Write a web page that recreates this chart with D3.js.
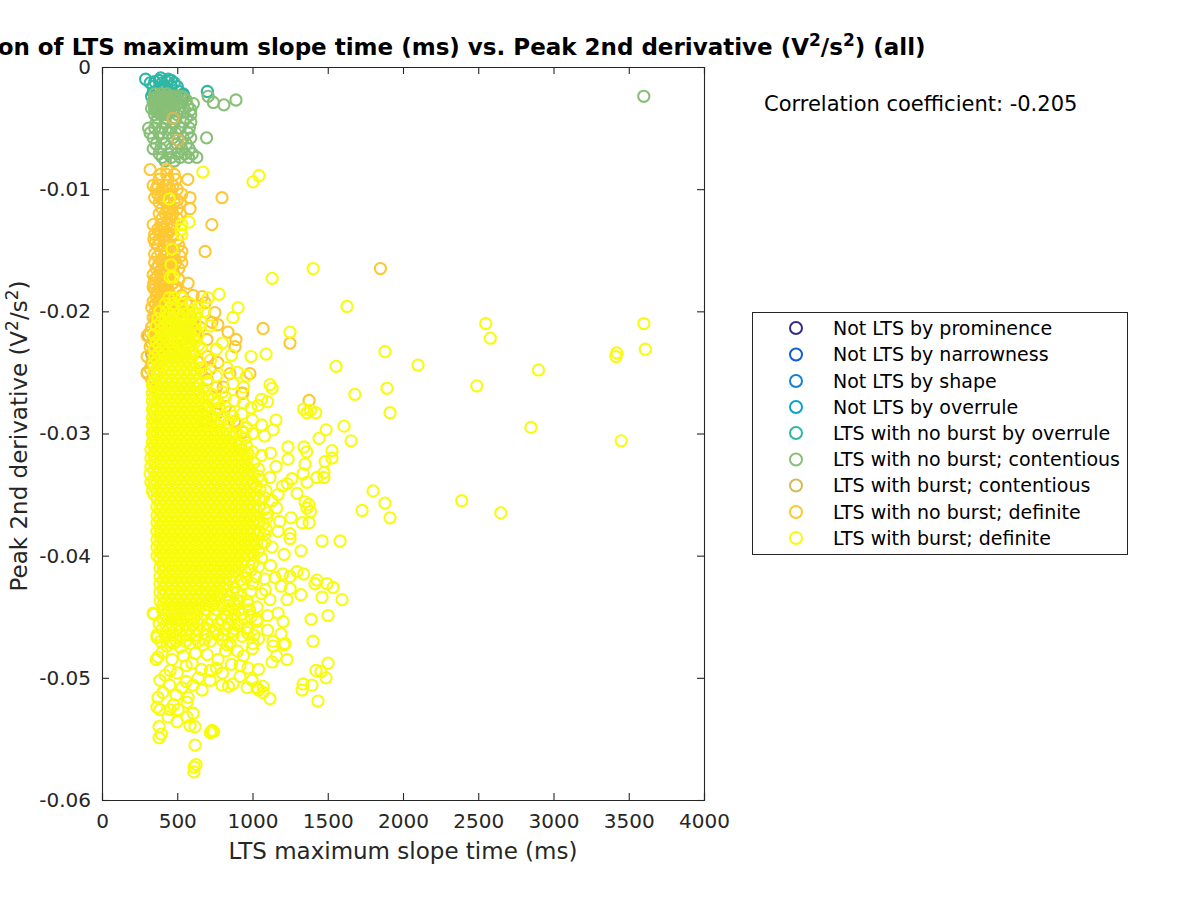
<!DOCTYPE html>
<html><head><meta charset="utf-8">
<script src="https://cdn.jsdelivr.net/npm/d3@7/dist/d3.min.js"></script>
<style>html,body{margin:0;padding:0;background:#fff;overflow:hidden}text{font-family:"DejaVu Sans";}</style>
</head><body><svg id="c" width="1200" height="900"></svg>
<script>
// all values. y in units of 1e-3 V^2/s^2
const seriesNames=["Not LTS by prominence","Not LTS by narrowness","Not LTS by shape","Not LTS by overrule","LTS with no burst by overrule","LTS with no burst; contentious","LTS with burst; contentious","LTS with no burst; definite","LTS with burst; definite"];
const seriesColors=["#352a87","#0f5cdd","#1481d6","#06a4ca","#2eb7a4","#87bf77","#d1bb59","#fec832","#f9fb0e"];
const xTicks=[0,500,1000,1500,2000,2500,3000,3500,4000];
const yTicks=[0,-0.01,-0.02,-0.03,-0.04,-0.05,-0.06];

// rows: [y, x, x, x ...]
const overruleRows=[
[-0.9,390],[-1.0,290,440],[-1.1,380,460],[-1.2,350,430],[-1.3,320,400,480],[-1.6,340,420,500,460],[-1.7,380],
[-2.0,360,700,440,510],[-2.1,340],[-2.2,470,540],[-2.3,540],[-2.4,330],[-2.6,350,540]];
const contentiousRows=[
[-2.2,350,390,430],[-2.4,370,410,450,480,705,520],[-2.5,350,390,430,540],[-2.7,370,410,450,500,890,560],[-2.9,340,350,390,430,470,530,740],[-3.0,370,410,450,500,607],[-3.1,810],[-3.2,350,390,430,470,570],[-3.4,330,370,410,450,510],[-3.5,350,390,430,480,590],[-3.7,370,410,450,540],[-3.9,350,390,430,500,590],[-4.2,370,420,470,560],
[-4.5,360,420,480,540,590],[-5.0,310,350,400,460,520,580],[-5.4,320,380,440,490,570],[-5.8,340,400,470,540,590,695],[-6.3,360,420,500,560],[-6.7,340,390,460,530,580],[-7.1,380,440,500,550,600],[-7.4,400,460,520,575,630],[-7.7,420,480],[-2.4,3600]];
const burstContentiousRows=[[-4.2,473],[-6.0,505],[-22.0,310],[-23.5,330],[-25.0,300]];
const noBurstDefiniteRows=[
[-8.4,320,430],[-8.8,390,430,480],[-9.2,380,440,490,570],[-9.7,340,370,420,470],[-10.0,360,400,450,500],[-10.4,370,410,460,530],[-10.7,350,390,440,585,797],[-11.1,380,430,480,520],[-11.6,400,450,500,585],[-12.0,380,420,470,520],[-12.4,400,450,500],[-12.9,340,390,430,480,730],[-13.3,370,410,450],[-13.7,350,390,430,470],[-14.1,345,380,420,500],[-14.6,370,410,450,510],[-15.1,390,430,480,530,685],[-15.5,370,410,460,520],[-16.0,350,400,440,490,530],[-16.5,360,420,470,510,1850],[-17.0,340,390,430,480],[-17.4,350,400,450,510],[-17.7,345,380,420,470,572],[-18.2,350,400,440,490],[-18.7,360,410,450,530,605],[-18.8,665],[-19.2,340,380,430,480,560],[-19.3,685],[-19.7,330,370,420,470,520],[-20.1,350,400,450,510,580,750],[-20.5,340,380,430,480,550],[-20.9,360,410,460,530,600,730],[-21.1,770],[-21.3,330,380,430,500,650],[-21.4,1070],[-21.7,320,370,420,480,560,837],[-22.0,300,350,400,460,620],[-22.3,340,390,450,530,697,890],[-22.6,1249],[-22.9,320,370,430,500,884],[-23.3,340,390,450,600],[-23.7,300,350,410,700],[-24.2,330,380,650,770],[-24.7,320,370,720],[-25.1,300,350,850,983],[-25.6,330,700],[-26.2,340,805,760],[-26.7,930,935],[-27.3,1376],[-27.8,700,820],[-28.4,760],[-29.0,690,880],[-29.9,937],
[-10.9,410,500],[-11.9,440],[-13.1,400,470],[-13.5,385],[-13.9,405],[-14.4,355,435],[-15.3,350,420],[-15.8,395,475],[-16.2,375,455],[-16.7,385,460],[-17.2,365,445],[-17.6,430],[-18.0,340,410,495],[-18.4,365,425],[-18.9,385,475],[-19.4,355,445],[-19.9,385,490],[-20.3,365,470],[-20.7,355,445],[-21.1,395],[-21.5,355,455],[-22.2,365],[-22.6,330],[-23.1,350],[-23.5,360]];

// the dense body of the cloud
const burstDefiniteBody=[
[-18.9,480,530],[-19.4,420,470,530,590],[-19.9,480,540,600],[-20.0,385,430],[-20.2,450,510,570,630],[-20.5,420,470,530,590],[-20.6,370],[-20.9,390,445,500,560,620,660],[-21.2,360,415,470,530,590],[-21.5,390,445,500,560,620],[-21.9,345,410,470,530,590,640],[-22.2,385,440,500,560,610],[-22.5,360,405,460,515,570,620],[-22.8,380,430,480,530,580,640],[-23.1,350,400,445,490,535,590],[-23.4,375,420,465,510,555,610],[-23.7,350,395,435,475,515,555,600],[-24.0,365,405,445,485,525,565,640],[-24.3,345,385,425,465,505,545,590],[-24.7,365,405,445,485,525,565,610],
[-25.0,345,385,425,465,505,545,585,625],
[-25.3,365,405,445,485,525,565,605],
[-25.7,345,385,425,465,505,545,585,625],
[-26.0,335,365,405,445,485,525,565,605,645],
[-26.3,345,385,425,465,505,545,585,625],
[-26.7,335,365,405,445,485,525,565,605,645],
[-27.0,345,385,425,465,505,545,585,625,665],
[-27.3,335,365,405,445,485,525,565,605,645],
[-27.7,345,385,425,465,505,545,585,625,665,705],
[-28.0,335,365,405,445,485,525,565,605,645,685],
[-28.3,345,385,425,465,505,545,585,625,665,705],
[-28.7,335,365,405,445,485,525,565,605,645,685,725],
[-29.0,345,385,425,465,505,545,585,625,665,705,745,785],
[-29.3,335,365,405,445,485,525,565,605,645,685,725,765],
[-29.7,345,385,425,465,505,545,585,625,665,705,745,785,825],
[-30.0,335,365,405,445,485,525,565,605,645,685,725,765,805,845,885],
[-30.3,345,385,425,465,505,545,585,625,665,705,745,785,825,865],
[-30.7,335,365,405,445,485,525,565,605,645,685,725,765,805,845,885],
[-31.0,345,385,425,465,505,545,585,625,665,705,745,785,825,865,905],
[-31.3,325,365,405,445,485,525,565,605,645,685,725,765,805,845,885,925],
[-31.7,345,385,425,465,505,545,585,625,665,705,745,785,825,865,905],
[-32.0,325,365,405,445,485,525,565,605,645,685,725,765,805,845,885,925,965],
[-32.3,345,385,425,465,505,545,585,625,665,705,745,785,825,865,905,945],
[-32.7,325,365,405,445,485,525,565,605,645,685,725,765,805,845,885,925,965],
[-33.0,345,385,425,465,505,545,585,625,665,705,745,785,825,865,905,945,985],
[-33.3,320,365,405,445,485,525,565,605,645,685,725,765,805,845,885,925,965,1005],
[-33.7,345,385,425,465,505,545,585,625,665,705,745,785,825,865,905,945,985],
[-34.0,325,365,405,445,485,525,565,605,645,685,725,765,805,845,885,925,965,1005],
[-34.3,345,385,425,465,505,545,585,625,665,705,745,785,825,865,905,945,985,1025],
[-34.7,335,365,405,445,485,525,565,605,645,685,725,765,805,845,885,925,965],
[-35.0,345,385,425,465,505,545,585,625,665,705,745,785,825,865,905,945,985,1025],
[-35.3,365,405,445,485,525,565,605,645,685,725,765,805,845,885,925,965,1005,1045],
[-35.7,385,425,465,505,545,585,625,665,705,745,785,825,865,905,945,985],
[-36.0,365,405,445,485,525,565,605,645,685,725,765,805,845,885,925,965,1005,1045],
[-36.3,385,425,465,505,545,585,625,665,705,745,785,825,865,905,945,985,1025],
[-36.7,365,405,445,485,525,565,605,645,685,725,765,805,845,885,925,965,1005],
[-37.0,385,425,465,505,545,585,625,665,705,745,785,825,865,905,945,985,1025],
[-37.3,365,405,445,485,525,565,605,645,685,725,765,805,845,885,925,965,1005,1045],
[-37.7,385,425,465,505,545,585,625,665,705,745,785,825,865,905,945,985],
[-38.0,365,405,445,485,525,565,605,645,685,725,765,805,845,885,925,965,1005,1045],
[-38.3,385,425,465,505,545,585,625,665,705,745,785,825,865,905,945,985,1025],
[-38.7,365,405,445,485,525,565,605,645,685,725,765,805,845,885,925,965,1005],
[-39.0,385,425,465,505,545,585,625,665,705,745,785,825,865,905,945,985,1025],
[-39.3,365,405,445,485,525,565,605,645,685,725,765,805,845,885,925,965,1005],
[-39.7,385,425,465,505,545,585,625,665,705,745,785,825,865,905,945,985],
[-40.0,365,405,445,485,525,565,605,645,685,725,765,805,845,885,925,965],
[-40.3,385,425,465,505,545,585,625,665,705,745,785,825,865,905,945],
[-40.7,405,445,485,525,565,605,645,685,725,765,805,845,885,925],
[-41.0,385,425,465,505,545,585,625,665,705,745,785,825,865,905],
[-41.3,405,445,485,525,565,605,645,685,725,765,805,845,885],
[-41.7,385,425,465,505,545,585,625,665,705,745,785,825,865],
[-42.0,405,445,485,525,565,605,645,685,725,765,805,845],
[-42.3,385,425,465,505,545,585,625,665,705,745,785,825],
[-42.7,405,445,485,525,565,605,645,685,725,765,805],
[-43.0,385,425,465,505,545,585,625,665,705,745,785,870],
[-43.3,405,445,485,525,565,605,645,685,725,765,920],
[-43.7,385,425,465,505,545,585,625,665,705,750,830,965],
[-44.0,405,445,485,525,565,605,645,690,740,800,880],
[-44.4,400,440,480,520,560,600,640,690,760,840,910,980],
[-44.8,345,425,465,505,545,585,630,680,745,820,880],
[-45.2,405,445,485,525,565,610,660,730,795,860,945,1030],
[-45.6,380,425,465,505,550,600,645,700,770,840,900],
[-46.0,400,445,490,535,580,630,675,750,820,880,964],
[-46.5,365,420,470,520,560,625,700,770,804,870],
[-47.0,390,450,495,555,640,720,1136]];

const burstDefiniteOutliers=[
[670,-8.6],[1043,-8.9],[1003,-9.4],[447,-10.8],[578,-12.7],[530,-12.9],[525,-13.3],[530,-13.7],[465,-14.9],[458,-16.2],[452,-17.2],[472,-17.2],[1130,-17.3],[1403,-16.5],[1628,-19.6],[904,-19.7],[778,-18.6],[705,-18.9],[445,-18.9],[870,-20.5],[1249,-21.7],[2550,-21.0],[2580,-22.2],[3600,-21.0],[3610,-23.1],[3420,-23.4],[3415,-23.7],[3450,-30.6],[2100,-24.4],[1880,-23.3],[1555,-24.5],[1680,-26.8],[1894,-26.3],[1914,-28.3],[2490,-26.1],[2900,-24.8],[2850,-29.5],
[990,-23.7],[1090,-23.5],[680,-20.0],[640,-19.7],[720,-21.2],[800,-22.6],[860,-23.6],[760,-23.1],[660,-23.0],[720,-24.0],[830,-24.6],[900,-25.0],[960,-25.3],[760,-25.3],[690,-25.1],[870,-25.9],[940,-26.2],[800,-26.6],[730,-26.8],[1116,-26.0],[1130,-26.3],[1060,-27.2],[1100,-27.4],[1037,-27.7],[990,-27.9],[880,-27.3],[940,-27.5],[780,-27.9],[850,-28.2],[930,-28.4],[1362,-28.3],[1340,-28.0],[1385,-28.1],[1420,-28.3],[1156,-28.9],[1000,-28.9],[1060,-29.3],[1137,-29.7],[1080,-30.2],[1000,-30.0],[960,-29.5],
[1489,-29.7],[1442,-30.4],[1608,-29.4],[1655,-30.6],[1236,-31.1],[1342,-31.1],[1360,-31.5],[1528,-31.4],[1528,-32.0],[1482,-32.3],[1236,-32.1],[1349,-32.5],[1156,-32.7],[1040,-32.9],[1000,-31.5],[960,-31.0],[1060,-31.8],[1120,-31.6],[1475,-33.2],[1475,-33.6],[1428,-33.6],[1362,-34.0],[1336,-33.3],[1262,-33.7],[1200,-34.3],[1116,-33.6],[1296,-34.9],[1230,-34.1],[1170,-35.0],[1090,-34.7],[1060,-33.9],[1130,-35.5],[1801,-34.7],[1880,-35.7],[1914,-36.9],[1728,-36.3],[1582,-38.8],[1462,-38.8],[2390,-35.5],[2650,-36.5],[1322,-39.6],[1376,-37.3],[1330,-37.3],[1256,-36.9],[1362,-36.1],[1375,-35.8],[1385,-36.4],[1249,-38.2],[1249,-38.6],[1349,-35.6],[1160,-36.1],[1180,-37.2],[1100,-36.5],[1090,-37.8],[1170,-38.0],[1210,-39.9],[1130,-39.3],[1080,-38.9],[1060,-40.2],[1120,-40.8],[1000,-40.6],[950,-41.3],[1020,-41.7],[1080,-41.9],[940,-42.3],[880,-42.6],[990,-42.9],[1060,-43.1],[830,-43.2],[780,-43.4],[910,-43.7],[970,-44.0],[720,-43.7],
[1296,-41.3],[1250,-41.7],[1340,-41.5],[1200,-41.5],[1190,-42.5],[1250,-42.7],[1150,-41.8],[1428,-42.0],[1415,-42.3],[1495,-42.3],[1535,-42.6],[1462,-43.4],[1595,-43.6],[1322,-43.2],[1502,-44.9],[1389,-45.2],[1402,-47.0],[1203,-45.4],[1030,-45.4],[1030,-44.2],[1229,-43.6],[1116,-43.6],[1085,-42.8],[1170,-44.7],[1100,-44.9],[1216,-47.2],[1136,-47.4],[1190,-46.4],[1100,-46.1],[1040,-46.8],[1003,-47.2],
[340,-44.7],[365,-46.7],[372,-48.3],[360,-48.5],[465,-48.5],[452,-49.4],[385,-50.2],[419,-49.8],[598,-48.8],[560,-49.0],[718,-50.2],[640,-50.0],[605,-50.6],[665,-51.0],[372,-51.6],[405,-51.2],[492,-51.4],[572,-51.6],[565,-52.0],[365,-52.4],[385,-52.6],[452,-52.6],[475,-52.2],[505,-52.6],[439,-53.2],[498,-53.6],[565,-53.2],[605,-52.9],[585,-53.9],[618,-54.0],[731,-54.3],[731,-54.4],[720,-54.5],[742,-54.4],[379,-54.0],[395,-54.6],[379,-54.9],[618,-55.5],[625,-57.1],[612,-57.3],[611,-57.7],
[797,-50.6],[840,-50.7],[870,-50.5],[964,-50.8],[997,-50.2],[1030,-50.8],[1040,-51.0],[1070,-50.7],[1070,-51.2],[1116,-51.7],[1329,-51.0],[1336,-50.5],[1395,-50.6],[1435,-51.9],[1422,-49.4],[1455,-49.5],[1489,-50.0],[1502,-48.8],[1229,-48.5],[1130,-48.7],[1160,-48.2],[1209,-47.3],[964,-46.3],[917,-49.0],[917,-49.9],[850,-47.2],[771,-48.5],[585,-47.2],[671,-47.3],[472,-47.2],[520,-47.5],[430,-47.4],
[400,-47.9],[540,-48.2],[620,-48.0],[700,-48.1],[820,-47.8],[900,-47.8],[760,-49.2],[860,-48.9],[940,-48.2],[800,-49.6],[720,-49.4],[660,-49.3],[500,-49.6],[560,-50.3],[450,-50.6],[530,-50.8],[1000,-47.6],[1040,-49.3],[970,-49.2],
[660,-24.6],[700,-25.8],[690,-26.4],[740,-27.2],[700,-27.0],[770,-27.4],[820,-27.0],[760,-28.0],[810,-28.6],[870,-28.6],[840,-29.1],[900,-29.2],[930,-29.8],[950,-30.4],[920,-30.9],[970,-31.7],[1010,-32.4],[1040,-33.5],[1050,-34.6],[1075,-35.2],[1080,-36.2],[1095,-36.9],[1070,-37.4],[1080,-38.3],[1060,-39.0],[1040,-39.6],[1010,-40.0],[1040,-40.9],[990,-41.2],[960,-41.8],[920,-42.0],[1000,-42.3],[900,-43.0],[850,-43.7],[870,-44.4],[930,-44.8],[990,-45.0],[830,-45.0],[900,-45.6],[970,-45.9],[1010,-46.5],[930,-46.6],[870,-46.2],[800,-46.9],[680,-46.9],[740,-46.2],[830,-47.3]];

const svg=d3.select("#c");
const x=d3.scaleLinear().domain([0,4000]).range([102,704]);
const y=d3.scaleLinear().domain([-0.06,0]).range([800,67]);
const ink="#262626";
const expand=rows=>rows.flatMap(r=>r.slice(1).map(v=>[v,r[0]]));
const layers=[
 [4,expand(overruleRows)],[5,expand(contentiousRows)],[6,expand(burstContentiousRows)],[7,expand(noBurstDefiniteRows)],
 [8,expand(burstDefiniteBody).concat(burstDefiniteOutliers)]];
layers.forEach(([i,pts])=>{
  svg.append("g").attr("fill","none").attr("stroke",seriesColors[i]).attr("stroke-width",2.1)
   .selectAll("circle").data(pts).join("circle")
   .attr("cx",d=>x(d[0])).attr("cy",d=>y(d[1]/1000)).attr("r",5.6);
});

function styleAxis(g){g.selectAll("path").attr("stroke",ink).attr("stroke-width",1.1);g.selectAll("line").attr("stroke",ink).attr("stroke-width",1.1);
 g.selectAll("text").attr("fill",ink).style("font-size","20px").style("font-family","DejaVu Sans");}
const noLabels=g=>g.selectAll("text").remove();
const fmt=d=>String(d);
svg.append("g").attr("transform","translate(0,800)").call(d3.axisBottom(x).tickValues(xTicks).tickFormat(fmt).tickSize(-7).tickPadding(14)).call(styleAxis);
svg.append("g").attr("transform","translate(0,67)").call(d3.axisTop(x).tickValues(xTicks).tickSize(-7)).call(styleAxis).call(noLabels);
svg.append("g").attr("transform","translate(102,0)").call(d3.axisLeft(y).tickValues(yTicks).tickFormat(fmt).tickSize(-7).tickPadding(11)).call(styleAxis);
svg.append("g").attr("transform","translate(704,0)").call(d3.axisRight(y).tickValues(yTicks).tickSize(-7)).call(styleAxis).call(noLabels);

// text runs: plain strings and superscript 2s
function runs(t,head,tail,rise,supSize){
  t.append("tspan").text(head);
  t.append("tspan").attr("dy",-rise).style("font-size",supSize+"px").text("2");
  t.append("tspan").attr("dy",rise).text("/s");
  t.append("tspan").attr("dy",-rise).style("font-size",supSize+"px").text("2");
  t.append("tspan").attr("dy",rise).text(tail);
}
const title=svg.append("text").attr("x",405).attr("y",55).attr("text-anchor","middle").attr("fill","#000").style("font-size","23px").style("font-weight","bold");
runs(title,"Correlation of LTS maximum slope time (ms) vs. Peak 2nd derivative (V",") (all)",9,17);
svg.append("text").attr("x",403).attr("y",859).attr("text-anchor","middle").attr("fill",ink).style("font-size","23px").text("LTS maximum slope time (ms)");
const yl=svg.append("text").attr("transform","translate(27,436) rotate(-90)").attr("text-anchor","middle").attr("fill",ink).style("font-size","23px");
runs(yl,"Peak 2nd derivative (V",")",9,17);
svg.append("text").attr("x",764).attr("y",111).attr("fill","#000").style("font-size","21px").text("Correlation coefficient: -0.205");

svg.append("rect").attr("x",752.5).attr("y",312.5).attr("width",375).attr("height",242).attr("fill","#fff").attr("stroke",ink).attr("stroke-width",1);
const legendY=[328,354.5,381,407,433,459.5,485.5,512,538];
seriesNames.forEach((n,i)=>{
 svg.append("circle").attr("cx",796).attr("cy",legendY[i]).attr("r",6).attr("fill","none").attr("stroke",seriesColors[i]).attr("stroke-width",2);
 svg.append("text").attr("x",833).attr("y",legendY[i]+6.5).attr("fill","#000").style("font-size","19px").text(n);
});
</script></body></html>
